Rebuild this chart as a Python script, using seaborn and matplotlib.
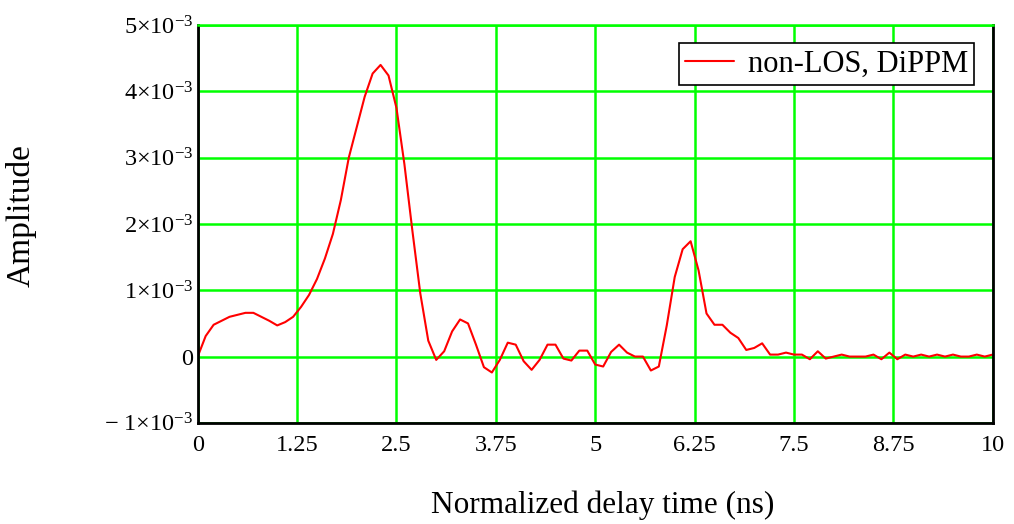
import numpy as np
import pandas as pd
import matplotlib
matplotlib.use('Agg')
import matplotlib.pyplot as plt
from matplotlib.ticker import FixedLocator, FuncFormatter
import seaborn as sns

# values (amplitude in units of 1e-3)
delay_ns = [0.0, 0.1, 0.2, 0.3, 0.4, 0.5, 0.6, 0.7, 0.8, 0.9,
            1.0, 1.1, 1.2, 1.3, 1.4, 1.5, 1.6, 1.7, 1.8, 1.9,
            2.0, 2.1, 2.2, 2.3, 2.4, 2.5, 2.6, 2.7, 2.8, 2.9,
            3.0, 3.1, 3.2, 3.3, 3.4, 3.5, 3.6, 3.7, 3.8, 3.9,
            4.0, 4.1, 4.2, 4.3, 4.4, 4.5, 4.6, 4.7, 4.8, 4.9,
            5.0, 5.1, 5.2, 5.3, 5.4, 5.5, 5.6, 5.7, 5.8, 5.9,
            6.0, 6.1, 6.2, 6.3, 6.4, 6.5, 6.6, 6.7, 6.8, 6.9,
            7.0, 7.1, 7.2, 7.3, 7.4, 7.5, 7.6, 7.7, 7.8, 7.9,
            8.0, 8.1, 8.2, 8.3, 8.4, 8.5, 8.6, 8.7, 8.8, 8.9,
            9.0, 9.1, 9.2, 9.3, 9.4, 9.5, 9.6, 9.7, 9.8, 9.9, 10.0]
amp_e3 = [0.00, 0.31, 0.48, 0.54, 0.60, 0.63, 0.66, 0.66, 0.60, 0.54,
          0.47, 0.52, 0.60, 0.75, 0.93, 1.17, 1.48, 1.85, 2.36, 3.00,
          3.46, 3.92, 4.27, 4.40, 4.24, 3.75, 2.90, 1.90, 0.95, 0.24,
          -0.05, 0.08, 0.38, 0.56, 0.50, 0.18, -0.16, -0.24, -0.05, 0.21,
          0.18, -0.07, -0.20, -0.05, 0.18, 0.18, -0.03, -0.06, 0.09, 0.09,
          -0.12, -0.15, 0.07, 0.18, 0.06, 0.00, 0.00, -0.21, -0.15, 0.47,
          1.20, 1.62, 1.74, 1.30, 0.65, 0.48, 0.48, 0.36, 0.28, 0.10,
          0.13, 0.20, 0.03, 0.03, 0.06, 0.03, 0.03, -0.04, 0.08, -0.03,
          0.00, 0.03, 0.00, 0.00, 0.00, 0.03, -0.04, 0.06, -0.04, 0.03,
          0.00, 0.03, 0.00, 0.03, 0.00, 0.03, 0.00, 0.00, 0.03, 0.00, 0.03]
x_ticks = [0, 1.25, 2.5, 3.75, 5, 6.25, 7.5, 8.75, 10]
x_tick_labels = ['0', '1.25', '2.5', '3.75', '5', '6.25', '7.5', '8.75', '10']
y_ticks_e3 = [-1, 0, 1, 2, 3, 4, 5]

df = pd.DataFrame({'t': delay_ns, 'amp': np.array(amp_e3) * 1e-3})

sns.set_style('white')
plt.rcParams['font.family'] = ['Liberation Serif', 'DejaVu Serif']
plt.rcParams['mathtext.fontset'] = 'custom'
plt.rcParams['mathtext.rm'] = 'Liberation Serif'
plt.rcParams['mathtext.it'] = 'Liberation Serif:italic'
plt.rcParams['text.color'] = 'black'
plt.rcParams['axes.labelcolor'] = 'black'
plt.rcParams['xtick.color'] = 'black'
plt.rcParams['ytick.color'] = 'black'

fig = plt.figure(figsize=(10.14, 5.24), dpi=100)
ax = fig.add_axes([0.195, 0.193, 0.784, 0.759])

ax.grid(True, color='#00ff00', linewidth=1.8)
ax.set_axisbelow(True)

sns.lineplot(data=df, x='t', y='amp', color='red', linewidth=1.5,
             label='non-LOS, DiPPM', ax=ax)

ax.set_xlim(0, 10)
ax.set_ylim(-1e-3, 5e-3)
ax.xaxis.set_major_locator(FixedLocator(x_ticks))
ax.set_xticklabels(x_tick_labels)
ax.yaxis.set_major_locator(FixedLocator([v * 1e-3 for v in y_ticks_e3]))


def fmt_y(v, pos):
    k = int(round(v * 1e3))
    if k == 0:
        return '0'
    if k < 0:
        return '\u2212 %d\u00d710$^{\u22123}$' % abs(k)
    return '%d\u00d710$^{\u22123}$' % k


ax.yaxis.set_major_formatter(FuncFormatter(fmt_y))
ax.tick_params(axis='both', length=0, labelsize=17.5, pad=3)
ax.tick_params(axis='x', pad=9)

for side in ['left', 'bottom', 'right']:
    ax.spines[side].set_color('black')
    ax.spines[side].set_linewidth(2)
ax.spines['top'].set_color('#00ff00')
ax.spines['top'].set_linewidth(1.8)

ax.set_xlabel('Normalized delay time (ns)', fontsize=22.5)
ax.set_ylabel('Amplitude', fontsize=24)
ax.xaxis.set_label_coords(0.51, -0.17)
ax.yaxis.set_label_coords(-0.203, 0.52)

leg = ax.legend(loc='upper right', fontsize=22, frameon=True, fancybox=False,
                edgecolor='black', borderpad=0.2, handlelength=1.6,
                handletextpad=0.45, borderaxespad=0.6)
leg.get_frame().set_linewidth(1.2)
leg.get_frame().set_alpha(1)

fig.savefig('out.png', dpi=100)
